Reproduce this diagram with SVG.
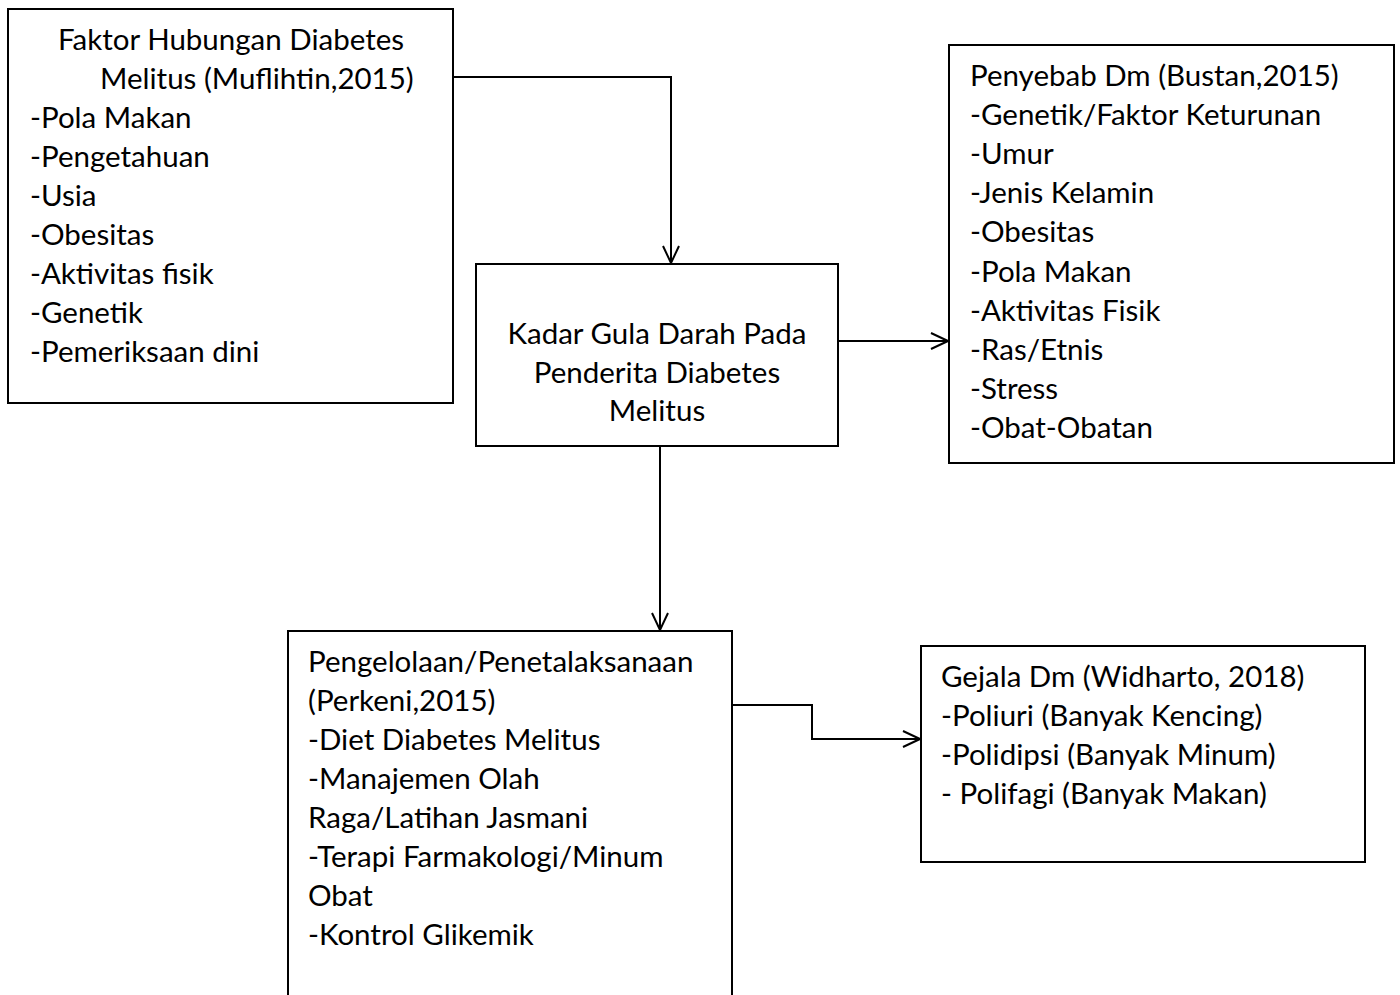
<svg xmlns="http://www.w3.org/2000/svg" width="1400" height="995" viewBox="0 0 1400 995">
<style>
.box{fill:#fff;stroke:#000;stroke-width:2}
.t{font-family:Lato,"Open Sans",sans-serif;font-size:29.5px;fill:#000}
.c{text-anchor:middle}
.ln{fill:none;stroke:#000;stroke-width:2}
</style>
<defs>
<marker id="arr" markerWidth="20" markerHeight="20" refX="18" refY="10" orient="auto" markerUnits="userSpaceOnUse">
<path d="M1,2 L18,10 L1,18" fill="none" stroke="#000" stroke-width="2"/>
</marker>
</defs>
<rect width="1400" height="995" fill="#fff"/>
<g id="n1">
<rect class="box" x="8" y="9" width="445" height="394"/>
<text class="t" x="58" y="50">Faktor Hubungan Diabetes</text>
<text class="t" x="100" y="89">Melitus (Muflihtin,2015)</text>
<text class="t" x="30" y="128">-Pola Makan</text>
<text class="t" x="30" y="167">-Pengetahuan</text>
<text class="t" x="30" y="206">-Usia</text>
<text class="t" x="30" y="245">-Obesitas</text>
<text class="t" x="30" y="284">-Aktivitas fisik</text>
<text class="t" x="30" y="323">-Genetik</text>
<text class="t" x="30" y="362">-Pemeriksaan dini</text>
</g>
<g id="n2">
<rect class="box" x="476" y="264" width="362" height="182"/>
<text class="t c" x="657" y="344">Kadar Gula Darah Pada</text>
<text class="t c" x="657" y="383">Penderita Diabetes</text>
<text class="t c" x="657" y="421">Melitus</text>
</g>
<g id="n3">
<rect class="box" x="949" y="45" width="445" height="418"/>
<text class="t" x="970" y="86">Penyebab Dm (Bustan,2015)</text>
<text class="t" x="970" y="125">-Genetik/Faktor Keturunan</text>
<text class="t" x="970" y="164">-Umur</text>
<text class="t" x="970" y="203">-Jenis Kelamin</text>
<text class="t" x="970" y="242">-Obesitas</text>
<text class="t" x="970" y="282">-Pola Makan</text>
<text class="t" x="970" y="321">-Aktivitas Fisik</text>
<text class="t" x="970" y="360">-Ras/Etnis</text>
<text class="t" x="970" y="399">-Stress</text>
<text class="t" x="970" y="438">-Obat-Obatan</text>
</g>
<g id="n4">
<path class="ln" d="M288,1000 L288,631 L732,631 L732,1000"/>
<text class="t" x="308" y="672">Pengelolaan/Penetalaksanaan</text>
<text class="t" x="308" y="711">(Perkeni,2015)</text>
<text class="t" x="308" y="750">-Diet Diabetes Melitus</text>
<text class="t" x="308" y="789">-Manajemen Olah</text>
<text class="t" x="308" y="828">Raga/Latihan Jasmani</text>
<text class="t" x="308" y="867">-Terapi Farmakologi/Minum</text>
<text class="t" x="308" y="906">Obat</text>
<text class="t" x="308" y="945">-Kontrol Glikemik</text>
</g>
<g id="n5">
<rect class="box" x="921" y="646" width="444" height="216"/>
<text class="t" x="941" y="687">Gejala Dm (Widharto, 2018)</text>
<text class="t" x="941" y="726">-Poliuri (Banyak Kencing)</text>
<text class="t" x="941" y="765">-Polidipsi (Banyak Minum)</text>
<text class="t" x="941" y="804">- Polifagi (Banyak Makan)</text>
</g>
<g id="connectors">
<path class="ln" d="M453,77 L671,77 L671,263" marker-end="url(#arr)"/>
<path class="ln" d="M838,341 L948,341" marker-end="url(#arr)"/>
<path class="ln" d="M660,446 L660,630" marker-end="url(#arr)"/>
<path class="ln" d="M732,705 L812,705 L812,739 L920,739" marker-end="url(#arr)"/>
</g>
</svg>
